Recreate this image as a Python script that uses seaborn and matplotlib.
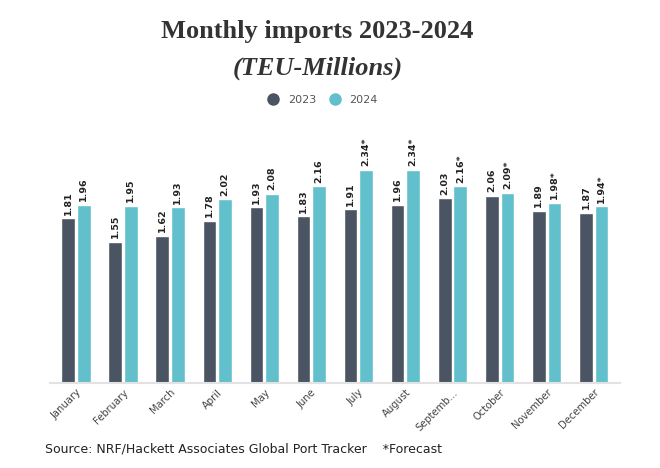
import matplotlib
matplotlib.use("Agg")
import matplotlib.pyplot as plt
import seaborn as sns
import pandas as pd
from matplotlib.lines import Line2D

months = ["January", "February", "March", "April", "May", "June", "July",
          "August", "Septemb...", "October", "November", "December"]
v2023 = [1.81, 1.55, 1.62, 1.78, 1.93, 1.83, 1.91, 1.96, 2.03, 2.06, 1.89, 1.87]
v2024 = [1.96, 1.95, 1.93, 2.02, 2.08, 2.16, 2.34, 2.34, 2.16, 2.09, 1.98, 1.94]
forecast2024 = [False, False, False, False, False, False, True, True, True, True, True, True]
years = ["2023", "2024"]
colors = {"2023": "#4a5463", "2024": "#62bfcc"}

df = pd.DataFrame({
    "month": months * 2,
    "year": ["2023"] * 12 + ["2024"] * 12,
    "value": v2023 + v2024,
})

sns.set_theme(style="white")
plt.rcParams['font.family'] = ['DejaVu Sans']

fig = plt.figure(figsize=(6.6, 4.68), dpi=100)
ax = fig.add_axes([0.0758, 0.1816, 0.863, 0.562])

sns.barplot(data=df, x="month", y="value", hue="year", palette=colors,
            width=0.66, gap=0.12, ax=ax, legend=False, saturation=1)

ax.set_xlim(-0.55, 11.55)
ax.set_ylim(0, 2.89)

# value labels
for cont, yr in zip(ax.containers, years):
    vals = v2023 if yr == "2023" else v2024
    for i, bar in enumerate(cont):
        txt = f"{vals[i]:.2f}"
        if yr == "2024" and forecast2024[i]:
            txt += "*"
        ax.text(bar.get_x() + bar.get_width() / 2, bar.get_height() + 0.04, txt,
                rotation=90, ha="center", va="bottom", fontsize=6.8,
                fontweight="bold", color="#222222")

ax.set_xlabel("")
ax.set_ylabel("")
ax.set_yticks([])
for s in ["top", "right", "left"]:
    ax.spines[s].set_visible(False)
ax.spines["bottom"].set_color("#e2e2e2")
ax.spines["bottom"].set_linewidth(1.5)
ax.tick_params(axis="x", length=0, pad=3)
plt.setp(ax.get_xticklabels(), rotation=45, ha="right", rotation_mode="anchor",
         fontsize=7.2, color="#444444")

fig.text(0.481, 0.932, "Monthly imports 2023-2024", ha="center", va="center",
         fontsize=19, fontweight="bold", family="Liberation Serif", color="#333333")
fig.text(0.481, 0.855, "(TEU-Millions)", ha="center", va="center",
         fontsize=19, fontweight="bold", style="italic", family="Liberation Serif",
         color="#333333")

handles = [Line2D([0], [0], marker="o", linestyle="", markersize=8,
                  markerfacecolor=colors[y], markeredgecolor=colors[y]) for y in years]
fig.legend(handles, years, loc="center", bbox_to_anchor=(0.485, 0.787), ncol=2,
           frameon=False, fontsize=8, handletextpad=0.3, columnspacing=0.7,
           labelcolor="#555555")

fig.text(0.068, 0.04, "Source: NRF/Hackett Associates Global Port Tracker    *Forecast",
         ha="left", va="center", fontsize=9, color="#222222")

fig.savefig("out.png", dpi=100, facecolor="white")
